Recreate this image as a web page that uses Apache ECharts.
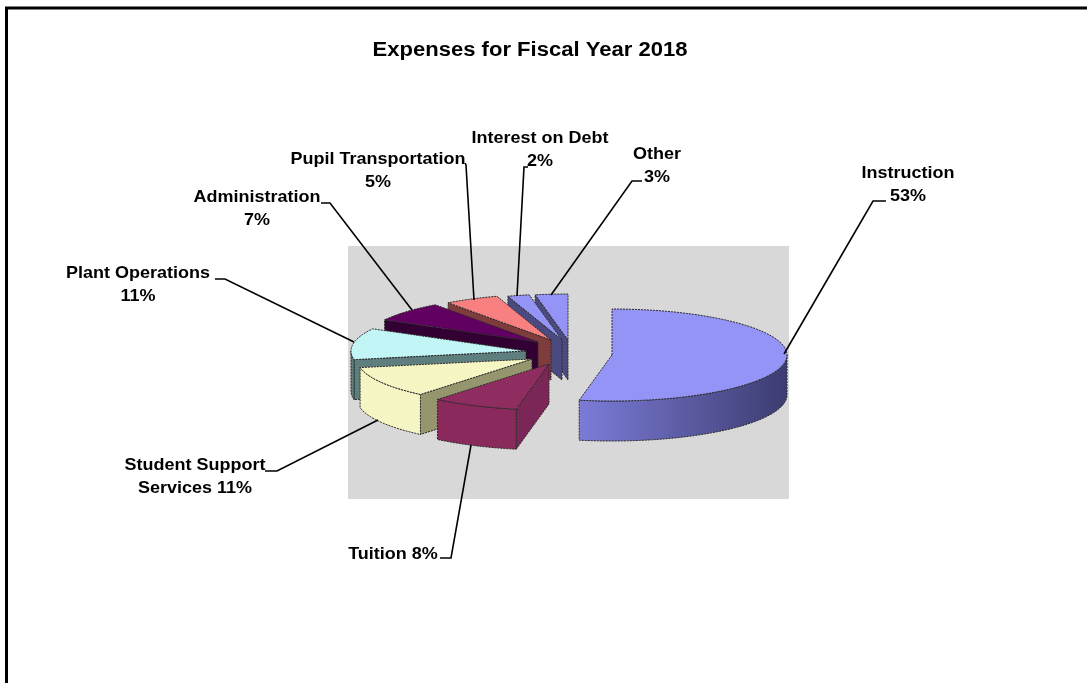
<!DOCTYPE html>
<html><head><meta charset="utf-8">
<style>html,body{margin:0;padding:0;background:#fff}#c{width:1087px;height:683px}</style>
<script src="https://cdn.jsdelivr.net/npm/echarts@6/dist/echarts.min.js"></script>
</head><body><div id="c"></div>
<script>
const chartTitle = 'Expenses for Fiscal Year 2018';
const categories = ['Instruction','Tuition','Student Support\nServices','Plant Operations','Administration','Pupil Transportation','Interest on Debt','Other'];
const values = [53,8,11,11,7,5,2,3];
const separators = ['\n',' ',' ','\n','\n','\n','\n','\n'];
const topColors = ['#9494f7','#8f2d60','#f6f6c4','#c2f6f6','#620062','#f88080','#9494f7','#9494f7'];
const faceColors = ['#9494f7','#7a2656','#96966e','#5f7f7f','#330033','#7f3c3c','#4a4a80','#4a4a80'];
const arcColors = [['#7c7cd8','#3c3c70'],['#8a2a5c','#8a2a5c'],['#f6f6c4','#f6f6c4'],['#5f7f7f','#5f7f7f'],['#330033','#330033'],['#7f3c3c','#7f3c3c'],['#4a4a80','#4a4a80'],['#4a4a80','#4a4a80']];
// layout
const apexes = [[612,355],[549,364],[532,359],[526,351],[538,342],[551,340],[562,340],[568,340]];
const labelAnchors = [[908,185],[393,554],[195,477],[138,285],[257,209],[378,171],[540,150],[657,166]];
const leaders = [
 [[784,354],[873,201],[886,201]],[[471,445],[451,558],[440,558]],[[378,420],[277,471],[265,471]],[[354,342],[225,279],[215,279]],
 [[412,310],[330,203],[321,203]],[[474,300],[466,165],[465,163]],[[517,296],[524,167],[528,167]],[[551,295],[632,181],[642,181]]];
const layerOrder = [8,7,6,5,4,3,2,1];
const RX = 175, RY = 46, DEPTH = 40;
const total = values.reduce((a,b)=>a+b,0);
const startAngles = values.reduce((acc,v,i)=>{acc.push(i?acc[i-1]+values[i-1]/total*360:0);return acc;},[]);
const font = 'Liberation Sans';

function pt(c,deg,d){const r=deg*Math.PI/180;return [c[0]+RX*Math.sin(r),c[1]-RY*Math.cos(r)+(d||0)];}
function arcPts(c,a0,a1,d){const n=Math.max(4,Math.ceil((a1-a0)/2)),p=[];for(let i=0;i<=n;i++)p.push(pt(c,a0+(a1-a0)*i/n,d));return p;}
const edge = {stroke:'#2a2a2a',lineWidth:1,lineDash:[2,1]};

function renderItem(params, api){
  const i = params.dataIndex, v = api.value(0);
  const a0 = startAngles[i], a1 = a0 + v/total*360, c = apexes[i], z = layerOrder[i]*10;
  const kids = [];
  const shapeStyle = (fill)=>Object.assign({fill},edge);
  if (Math.sin(a0*Math.PI/180) < -1e-6) {
    const p = pt(c,a0);
    kids.push({type:'polygon',z2:z,shape:{points:[c,p,[p[0],p[1]+DEPTH],[c[0],c[1]+DEPTH]]},style:shapeStyle(faceColors[i])});
  }
  const f0 = Math.max(a0,90), f1 = Math.min(a1,270);
  if (f1 > f0) {
    const up = arcPts(c,f0,f1,0), low = arcPts(c,f0,f1,DEPTH).reverse();
    kids.push({type:'polygon',z2:z+1,shape:{points:up.concat(low)},style:Object.assign({
      fill:new echarts.graphic.LinearGradient(0,0,1,0,[{offset:0,color:arcColors[i][0]},{offset:1,color:arcColors[i][1]}])},edge)});
  }
  kids.push({type:'polygon',z2:z+2,shape:{points:[c].concat(arcPts(c,a0,a1,0))},style:shapeStyle(topColors[i])});
  kids.push({type:'polyline',z2:200,shape:{points:leaders[i]},style:{stroke:'#000',lineWidth:1.6,fill:null}});
  kids.push({type:'text',z2:201,x:labelAnchors[i][0],y:labelAnchors[i][1],scaleX:1.09,style:{
    text:categories[i]+separators[i]+v+'%',font:'bold 16.5px "'+font+'"',fill:'#000',align:'center',verticalAlign:'middle',lineHeight:23}});
  return {type:'group',children:kids};
}

const chart = echarts.init(document.getElementById('c'),null,{renderer:'canvas'});
chart.setOption({
  animation:false,
  backgroundColor:'#fff',
  graphic:[
    {type:'rect',z:-2,shape:{x:348,y:246,width:441,height:253},style:{fill:'#d8d8d8'}},
    {type:'polyline',z:-1,shape:{points:[[6.5,700],[6.5,8],[1090,8]]},style:{stroke:'#000',lineWidth:3,fill:null}},
    {type:'text',z:5,x:530,y:51,scaleX:1.13,style:{text:chartTitle,font:'bold 19.5px "'+font+'"',fill:'#000',align:'center',verticalAlign:'middle'}}
  ],
  series:[{type:'custom',coordinateSystem:'none',renderItem,data:values.map(v=>[v]),encode:{},silent:true}]
});
</script></body></html>
